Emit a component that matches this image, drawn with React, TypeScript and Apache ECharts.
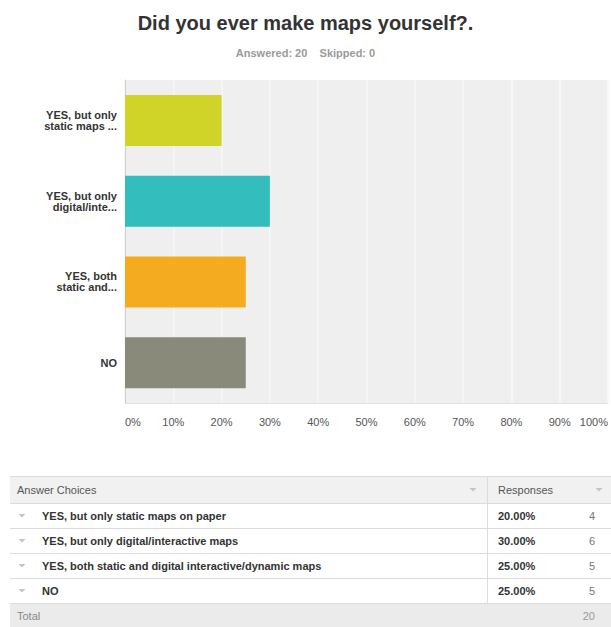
import React, { useEffect, useRef } from "react";
import * as echarts from "echarts";

const axisLabels = [
  "YES, but only\nstatic maps ...",
  "YES, but only\ndigital/inte...",
  "YES, both\nstatic and...",
  "NO",
];
const answerChoices = [
  "YES, but only static maps on paper",
  "YES, but only digital/interactive maps",
  "YES, both static and digital interactive/dynamic maps",
  "NO",
];
const percents = [20, 30, 25, 25];
const counts = [4, 6, 5, 5];
const barColors = ["#d0d328", "#33bdbd", "#f5ab1f", "#898a79"];
const answered = 20;
const skipped = 0;
const total = 20;

const FONT = "'Liberation Sans', Arial, sans-serif";

function caret(x: number, y: number) {
  return {
    type: "polygon",
    shape: { points: [[x - 3.5, y - 1.5], [x + 3.5, y - 1.5], [x, y + 2]] },
    style: { fill: "#c4c4c4" },
  };
}

export default function App() {
  const ref = useRef<HTMLDivElement>(null);
  useEffect(() => {
    if (!ref.current) return;
    const chart = echarts.init(ref.current, undefined, { renderer: "svg" });

    const tblTop = 476;
    const headH = 27;
    const rowH = 25;
    const left = 10;
    const right = 611;
    const divX = 487;
    const g: any[] = [];
    // header
    g.push({ type: "rect", shape: { x: left, y: tblTop, width: right - left, height: headH }, style: { fill: "#f1f1f1" } });
    g.push({ type: "line", shape: { x1: left, y1: tblTop + 0.5, x2: right, y2: tblTop + 0.5 }, style: { stroke: "#dcdcdc", lineWidth: 1 } });
    g.push({ type: "text", x: 17, y: tblTop + headH / 2, style: { text: "Answer Choices", fill: "#555", font: `11px ${FONT}`, textVerticalAlign: "middle" } });
    g.push({ type: "text", x: 498, y: tblTop + headH / 2, style: { text: "Responses", fill: "#555", font: `11px ${FONT}`, textVerticalAlign: "middle" } });
    g.push(caret(473, tblTop + headH / 2));
    g.push(caret(599, tblTop + headH / 2));
    let y = tblTop + headH;
    g.push({ type: "line", shape: { x1: left, y1: y + 0.5, x2: right, y2: y + 0.5 }, style: { stroke: "#dcdcdc", lineWidth: 1 } });
    answerChoices.forEach((c, i) => {
      const cy = y + rowH / 2;
      g.push(caret(22, cy));
      g.push({ type: "text", x: 42, y: cy, style: { text: c, fill: "#333", font: `bold 11px ${FONT}`, textVerticalAlign: "middle" } });
      g.push({ type: "text", x: 498, y: cy, style: { text: percents[i].toFixed(2) + "%", fill: "#333", font: `bold 11px ${FONT}`, textVerticalAlign: "middle" } });
      g.push({ type: "text", x: 595, y: cy, style: { text: String(counts[i]), fill: "#777", font: `11px ${FONT}`, textAlign: "right", textVerticalAlign: "middle" } });
      y += rowH;
      g.push({ type: "line", shape: { x1: left, y1: y + 0.5, x2: right, y2: y + 0.5 }, style: { stroke: "#dcdcdc", lineWidth: 1 } });
    });
    g.push({ type: "line", shape: { x1: divX + 0.5, y1: tblTop, x2: divX + 0.5, y2: y }, style: { stroke: "#dcdcdc", lineWidth: 1 } });
    g.push({ type: "rect", shape: { x: left, y: y + 1, width: right - left, height: 627 - y - 1 }, style: { fill: "#ebebeb" } });
    g.push({ type: "text", x: 17, y: y + 13, style: { text: "Total", fill: "#888", font: `11px ${FONT}`, textVerticalAlign: "middle" } });
    g.push({ type: "text", x: 595, y: y + 13, style: { text: String(total), fill: "#999", font: `11px ${FONT}`, textAlign: "right", textVerticalAlign: "middle" } });

    chart.setOption({
      animation: false,
      backgroundColor: "#ffffff",
      title: {
        text: "Did you ever make maps yourself?.",
        subtext: `Answered: ${answered}    Skipped: ${skipped}`,
        left: "center",
        top: 8,
        itemGap: 14,
        textStyle: { fontFamily: FONT, fontSize: 20, fontWeight: "bold", color: "#333" },
        subtextStyle: { fontFamily: FONT, fontSize: 11, fontWeight: "bold", color: "#9a9a9a" },
      },
      grid: {
        left: 125,
        top: 80,
        width: 486,
        height: 323,
        show: true,
        backgroundColor: "#efefef",
        borderWidth: 0,
        containLabel: false,
      },
      xAxis: {
        type: "value",
        min: 0,
        max: 100,
        interval: 10,
        axisLine: { show: true, lineStyle: { color: "#e2e2e2" } },
        axisTick: { show: false },
        splitLine: { show: true, lineStyle: { color: "#f7f7f7", width: 1.5 } },
        axisLabel: {
          formatter: "{value}%",
          color: "#555",
          fontSize: 11,
          fontFamily: FONT,
          margin: 13,
          alignMinLabel: "left",
          alignMaxLabel: "right",
        },
      },
      yAxis: {
        type: "category",
        inverse: true,
        data: axisLabels,
        axisLine: { show: true, lineStyle: { color: "#cfcfcf" } },
        axisTick: { show: false },
        axisLabel: {
          color: "#333",
          fontSize: 11,
          fontWeight: "bold",
          fontFamily: FONT,
          lineHeight: 11,
          margin: 8,
          align: "right",
        },
      },
      series: [
        {
          type: "bar",
          barWidth: 51,
          data: percents.map((v, i) => ({ value: v, itemStyle: { color: barColors[i] } })),
        },
      ],
      graphic: g,
    });
    return () => chart.dispose();
  }, []);
  return (
    <div
      ref={ref}
      style={{ position: "fixed", left: 0, top: 0, width: 611, height: 627, background: "#fff" }}
    />
  );
}
